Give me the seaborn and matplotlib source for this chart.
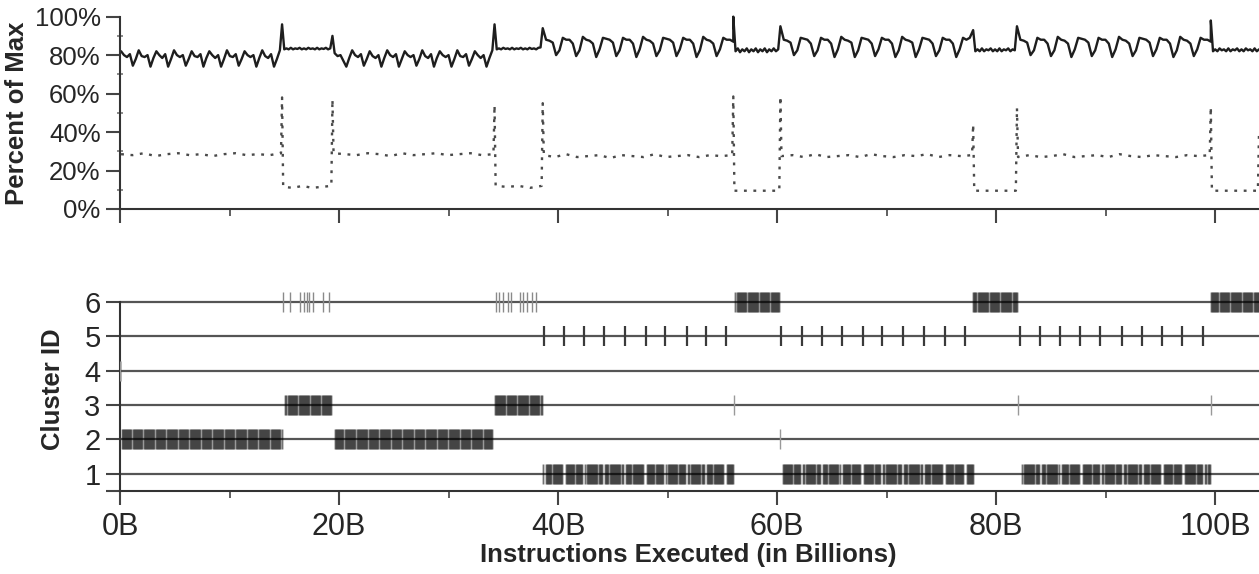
import numpy as np
import pandas as pd
import matplotlib
matplotlib.use('Agg')
import matplotlib.pyplot as plt
import seaborn as sns

sns.set_style('ticks')
plt.rcParams['font.family'] = ['Liberation Sans', 'DejaVu Sans']

# ---- top panel: percent of max (solid) ----
# phase boundaries in billions of instructions
seg_start = [0.1, 14.8, 19.6, 34.2, 38.6, 56.0, 60.3, 78.1, 81.9, 99.6]
seg_end = [14.6, 19.4, 34.0, 38.4, 56.0, 60.1, 77.9, 81.7, 99.6, 104.0]

util_a1 = [82, 80, 79, 80.5, 74.5, 78,
           82.5, 79.5, 79, 80, 74, 78.5,
           82, 80, 78.5, 80.5, 74, 78,
           82.5, 80, 79, 80, 74.5, 78,
           82, 79.5, 79, 80.5, 74, 78.5,
           82, 80, 78.5, 80, 74, 78,
           82.5, 79.5, 79, 80.5, 74.5, 78,
           82, 80, 79, 80, 74, 78.5,
           82.5, 79.5, 78.5, 80.5, 74, 78,
           82.5]
util_f1 = [96, 83, 83.5, 83, 83.8, 83, 83.5, 83.2, 83.8, 83, 83.5, 83,
           83.8, 83.2, 83.5, 83, 83.8, 83, 83.5, 83.2, 83.8, 83, 83.5, 90]
util_a2 = [81, 79.5, 80, 77, 74, 78.5,
           82.5, 80, 79, 80.5, 74.5, 78,
           82, 79.5, 78.5, 80, 74, 78.5,
           82.5, 80, 79, 80.5, 74, 78,
           82, 80, 79, 80, 74.5, 78,
           82.5, 79.5, 78.5, 80.5, 74, 78.5,
           82, 80, 79, 80, 74, 78,
           82.5, 79.5, 79, 80.5, 74.5, 78,
           82, 80, 78.5, 80, 74, 78.5,
           82.5]
util_f2 = [96, 83, 83.5, 83, 83.8, 83.2, 83.5, 83, 83.8, 83, 83.5, 83.2,
           83.8, 83, 83.5, 83, 83.8, 83.2, 83.5, 83, 83.8, 84]
util_b1 = [94, 88, 87.5, 86.5, 80, 82.5,
           89, 88, 88, 86, 79.5, 82.5,
           89.5, 88, 87.5, 86, 79, 83,
           89, 88.5, 88, 86.5, 79.5, 82.5,
           89, 88, 88, 86, 79, 83,
           89.5, 88, 87.5, 86, 79.5, 82.5,
           89, 88.5, 88, 86.5, 79.5, 83,
           89, 88, 88, 86, 79, 82.5,
           89.5, 88, 87.5, 86, 79.5, 83,
           89, 88, 88, 87]
util_f3 = [100, 82, 83.5, 81.5, 83, 82, 83.5, 81.5, 83, 82, 83.5, 81.5,
           83, 82, 83.5, 81.5, 83, 82, 83.5, 82, 83]
util_b2 = [95, 88, 87.5, 86.5, 80, 82.5,
           89, 88.5, 88, 86, 79.5, 82.5,
           89, 88, 88, 86, 79, 83,
           89.5, 88, 87.5, 86.5, 79, 82.5,
           89, 88.5, 88, 86, 79.5, 83,
           89, 88, 88, 86, 79, 82.5,
           89.5, 88, 87.5, 86.5, 79, 83,
           89, 88.5, 88, 86, 79.5, 82.5,
           89, 88, 88, 86, 79, 83,
           89, 88, 89, 93]
util_f4 = [82, 83, 82, 83.5, 82, 83, 82.5, 83.5, 82, 83, 82, 83.5, 82, 83,
           82.5, 83.5, 82, 83, 82.5]
util_b3 = [95, 88, 87.5, 86.5, 80, 82.5,
           89, 88, 88, 86, 79.5, 82.5,
           89.5, 88, 87.5, 86, 79, 83,
           89, 88.5, 88, 86.5, 79.5, 82.5,
           89, 88, 88, 86, 79, 83,
           89.5, 88, 87.5, 86, 79.5, 82.5,
           89, 88.5, 88, 86.5, 79.5, 83,
           89, 88, 88, 86, 79, 82.5,
           89.5, 88, 87.5, 86, 79.5, 83,
           89, 88, 88, 87]
util_f5 = [98, 82, 83, 82, 83.5, 82.5, 83, 82, 83.5, 82, 83, 82.5, 83.5,
           82, 83, 82, 83.5, 82.5, 83, 82, 83.5, 82, 83]
util_segs = [util_a1, util_f1, util_a2, util_f2, util_b1,
             util_f3, util_b2, util_f4, util_b3, util_f5]

# ---- top panel: dotted series ----
dot_start = [0.1, 14.9, 19.5, 34.3, 38.7, 56.1, 60.4, 78.0, 82.0, 99.7]
dot_end = [14.7, 19.3, 34.1, 38.5, 55.9, 60.2, 77.8, 81.8, 99.5, 103.9]
dot_a1 = [28.5, 28, 29, 27.5, 28.5, 29, 28, 28.5, 27.5, 28.5, 29, 28, 28.5, 28, 29]
dot_f1 = [11.5, 11, 12, 11, 11.5, 12]
dot_a2 = [29, 28.5, 28, 29, 28.5, 27.5, 29, 28, 28.5, 29, 28, 28.5, 29, 28, 28.5]
dot_f2 = [12, 11.5, 12, 11, 12]
dot_b1 = [28, 27, 28.5, 27, 27.5, 28, 26.5, 28, 27.5, 27, 28.5, 27, 27.5, 28, 27, 28, 27.5, 28]
dot_f3 = [9.5, 9.5, 9.5, 9.5, 9.5]
dot_b2 = [27.5, 28, 27, 28.5, 27, 27.5, 28, 27, 28.5, 27.5, 27, 28, 27.5, 28.5, 27, 28, 27.5, 28]
dot_f4 = [9.5, 9.5, 9.5, 9.5, 9.5]
dot_b3 = [27, 28, 27, 27.5, 28.5, 27, 27.5, 28, 27, 28.5, 27.5, 27, 28, 27.5, 27, 28, 27.5, 28]
dot_f5 = [9.5, 9.5, 9.5, 9.5, 9.5]
dot_segs = [dot_a1, dot_f1, dot_a2, dot_f2, dot_b1, dot_f3, dot_b2, dot_f4, dot_b3, dot_f5]
spike_x = [14.8, 19.4, 34.2, 38.6, 56.0, 60.3, 77.9, 81.9, 99.6, 104.0]
spike_y = [58, 57, 54, 55, 58.5, 58.5, 44, 52.5, 53, 39.5]

# ---- bottom panel: cluster per interval ----
run_start = [0.0, 0.15, 15.1, 19.6, 34.2, 38.6, 56.2, 60.5, 77.9, 82.2, 99.6]
run_end = [0.05, 14.75, 19.35, 34.0, 38.5, 56.0, 60.2, 77.9, 81.9, 99.5, 104.0]
run_cluster = [4, 2, 3, 2, 3, 1, 6, 1, 6, 1, 6]
c6_ticks = [14.9, 15.5, 16.4, 16.8, 17.1, 17.3, 17.6, 18.5, 19.1,
            34.3, 34.6, 35.0, 35.4, 35.7, 36.5, 36.8, 37.2, 37.6, 38.0]
c5_ticks = [38.75, 40.55, 42.4, 44.2, 46.1, 48.0, 49.8, 51.75, 53.5, 55.3,
            60.4, 62.25, 64.1, 65.9, 67.8, 69.6, 71.5, 73.4, 75.3, 77.2,
            82.2, 84.0, 85.8, 87.7, 89.5, 91.5, 93.3, 95.1, 97.0, 98.9]
lone_x = [0.0, 56.1, 82.0, 99.6, 60.3]
lone_cluster = [4, 3, 3, 3, 2]

pct_ticks = [0, 20, 40, 60, 80, 100]
pct_labels = ['0%', '20%', '40%', '60%', '80%', '100%']
x_ticks = [0, 20, 40, 60, 80, 100]
x_labels = ['0B', '20B', '40B', '60B', '80B', '100B']
cluster_ids = [1, 2, 3, 4, 5, 6]

# build frames
xs, ys = [], []
for s, e, v in zip(seg_start, seg_end, util_segs):
    xs.extend(np.linspace(s, e, len(v)))
    ys.extend(v)
solid = pd.DataFrame({'x': xs, 'y': ys})

xs, ys = [], []
for s, e, v, sx, sy in zip(dot_start, dot_end, dot_segs, spike_x, spike_y):
    xs.extend(np.linspace(s, e, len(v)))
    ys.extend(v)
    xs.append(sx)
    ys.append(sy)
dotted = pd.DataFrame({'x': xs, 'y': ys})

bx, bc = [], []
c5 = np.array(c5_ticks)
for s, e, c in zip(run_start, run_end, run_cluster):
    pts = np.arange(s, e + 1e-9, 0.1)
    if c == 1:
        pts = pts[np.min(np.abs(pts[:, None] - c5[None, :]), axis=1) > 0.1]
    bx.extend(pts)
    bc.extend([c] * len(pts))
blocks = pd.DataFrame({'x': bx, 'cluster': bc})

fig = plt.figure(figsize=(12.59, 5.74), dpi=100)
ax1 = fig.add_axes([0.0953, 0.6359, 0.9047, 0.3351])
ax2 = fig.add_axes([0.0953, 0.1446, 0.9047, 0.3531])

sns.lineplot(data=dotted, x='x', y='y', ax=ax1, color='#4a4a4a', lw=1.7,
             dashes=False, sort=False, estimator=None)
ax1.lines[-1].set_dashes((1.2, 2.8))
sns.lineplot(data=solid, x='x', y='y', ax=ax1, color='#1e1e1e', lw=1.7,
             sort=False, estimator=None, clip_on=False)

for ax in (ax1, ax2):
    ax.spines['top'].set_visible(False)
    ax.spines['right'].set_visible(False)
    for side in ('left', 'bottom'):
        ax.spines[side].set_color('#333333')
        ax.spines[side].set_linewidth(1.5)
    ax.set_xlim(0, 104)
    ax.set_xticks(x_ticks)
    ax.set_xticks([10, 30, 50, 70, 90], minor=True)
    ax.tick_params(axis='x', which='major', length=10, width=1.5, color='#444444')
    ax.tick_params(axis='x', which='minor', length=5, width=1.2, color='#444444')

ax1.set_ylim(0, 100)
ax1.set_yticks(pct_ticks)
ax1.set_yticklabels(pct_labels)
ax1.set_yticks([10, 30, 50, 70, 90], minor=True)
ax1.tick_params(axis='y', which='major', length=10, width=1.5, color='#444444',
                labelsize=18.5, pad=4)
ax1.tick_params(axis='y', which='minor', direction='inout', length=5, width=1.2,
                color='#777777')
ax1.tick_params(axis='x', labelbottom=False)
ax1.set_xlabel('')
ax1.set_ylabel('Percent of Max', fontsize=18.5, fontweight='bold')
ax1.yaxis.set_label_coords(-0.080, 0.5)

# bottom: cluster membership
for c in cluster_ids:
    ax2.axhline(c, color='#555555', lw=1.6, zorder=1)
sns.scatterplot(data=blocks, x='x', y='cluster', ax=ax2, marker='|', s=207,
                color='black', alpha=0.55, linewidth=1.3, zorder=2, legend=False,
                snap=False)
sns.scatterplot(x=c5_ticks, y=[5] * len(c5_ticks), ax=ax2, marker='|', s=207,
                color='#3a3a3a', linewidth=1.6, zorder=4, legend=False)
sns.scatterplot(x=c6_ticks, y=[6] * len(c6_ticks), ax=ax2, marker='|', s=207,
                color='#8a8a8a', linewidth=1.0, zorder=4, legend=False)
sns.scatterplot(x=lone_x, y=lone_cluster, ax=ax2, marker='|', s=207,
                color='#999999', linewidth=1.0, zorder=4, legend=False)

ax2.set_ylim(0.5, 6.4)
ax2.spines['left'].set_bounds(0.5, 6)
ax2.set_yticks(cluster_ids)
ax2.set_yticks([0.5], minor=True)
ax2.tick_params(axis='y', which='both', length=10, width=1.5, color='#444444',
                labelsize=21, pad=4)
ax2.set_xticklabels(x_labels)
ax2.tick_params(axis='x', which='major', labelsize=22, pad=5)
ax2.set_ylabel('Cluster ID', fontsize=18.5, fontweight='bold')
ax2.yaxis.set_label_coords(-0.048, 0.5)
ax2.set_xlabel('Instructions Executed (in Billions)', fontsize=18.5, fontweight='bold')
ax2.xaxis.set_label_coords(0.4987, -0.255)
ax2.xaxis.label.set_va('top')

fig.savefig('out.png', dpi=100)
